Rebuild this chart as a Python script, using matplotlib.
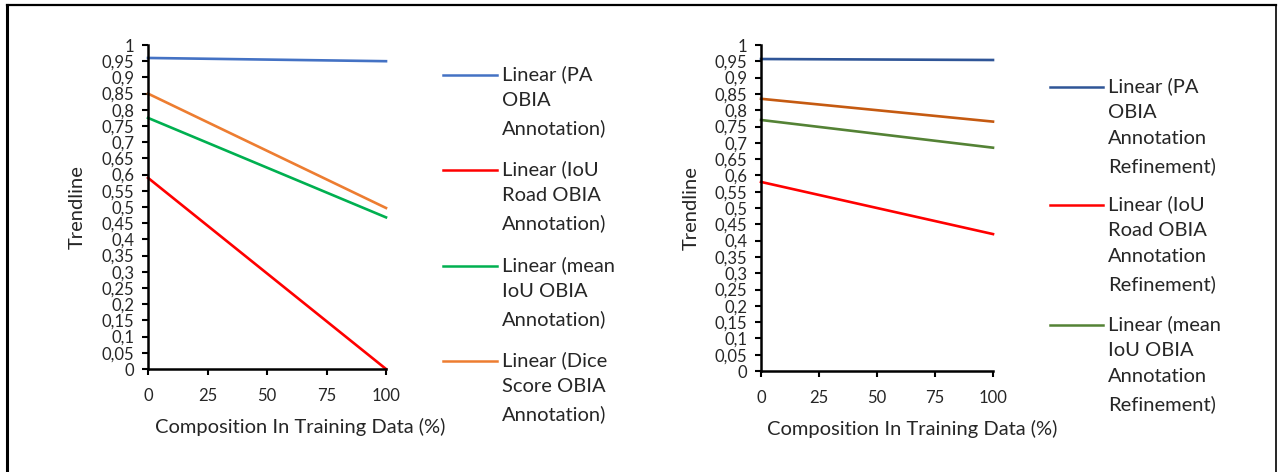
import matplotlib
matplotlib.use("Agg")
import matplotlib.pyplot as plt
from matplotlib.lines import Line2D
import numpy as np

plt.rcParams['font.family'] = ['Lato', 'DejaVu Sans']

# composition in training data (%), trendline endpoints
x = [0, 100]

left_names = ["Linear (PA\nOBIA\nAnnotation)",
              "Linear (IoU\nRoad OBIA\nAnnotation)",
              "Linear (mean\nIoU OBIA\nAnnotation)",
              "Linear (Dice\nScore OBIA\nAnnotation)"]
left_vals = [[0.960, 0.950],
             [0.590, 0.000],
             [0.775, 0.468],
             [0.850, 0.497]]
left_cols = ["#4472C4", "#FF0000", "#00B050", "#ED7D31"]

right_names = ["Linear (PA\nOBIA\nAnnotation\nRefinement)",
               "Linear (IoU\nRoad OBIA\nAnnotation\nRefinement)",
               "Linear (mean\nIoU OBIA\nAnnotation\nRefinement)"]
right_vals = [[0.957, 0.954],
              [0.580, 0.420],
              [0.770, 0.685],
              [0.835, 0.765]]
right_cols = ["#2F5597", "#FF0000", "#548235", "#C55A11"]

yticks = np.round(np.arange(0, 1.0001, 0.05), 2)
ylabels = [("%g" % v).replace(".", ",") for v in yticks]
xticks = [0, 25, 50, 75, 100]

W, H = 1278, 472
fig = plt.figure(figsize=(W / 100, H / 100), dpi=100)


def px(x0, y0):
    return x0 / W, 1 - y0 / H


def setup(ax, xlab_pos):
    ax.set_xlim(0, 100)
    ax.set_ylim(0, 1)
    for s in ["top", "right"]:
        ax.spines[s].set_visible(False)
    for s in ["left", "bottom"]:
        ax.spines[s].set_linewidth(1.8)
        ax.spines[s].set_color("black")
    ax.set_yticks(yticks)
    ax.set_yticklabels(ylabels)
    ax.set_xticks(xticks)
    ax.tick_params(axis="y", direction="out", length=4, width=1.5, pad=6,
                   labelsize=12, labelcolor="#262626")
    ax.tick_params(axis="x", direction="out", length=4, width=1.5, pad=10,
                   labelsize=12, labelcolor="#262626")
    ax.set_xlabel("Composition In Training Data (%)", fontsize=14.5, color="#262626")
    ax.xaxis.set_label_coords(xlab_pos, -0.15)
    ax.set_ylabel("Trendline", fontsize=14.5, color="#262626")


# left chart
ax1 = fig.add_axes([148 / W, 1 - 369 / H, 238 / W, 324 / H])
for v, c in zip(left_vals, left_cols):
    ax1.plot(x, v, color=c, lw=1.9, clip_on=False)
setup(ax1, 0.64)
ax1.yaxis.set_label_coords(-0.26, 0.5)

# right chart
ax2 = fig.add_axes([761 / W, 1 - 371 / H, 232 / W, 326 / H])
for v, c in zip(right_vals, right_cols):
    ax2.plot(x, v, color=c, lw=1.9, clip_on=False)
setup(ax2, 0.65)
ax2.yaxis.set_label_coords(-0.265, 0.5)


# legends drawn by hand so the line sits on the first text row
def legend(names, cols, x0, x1, tx, ys):
    for n, c, y in zip(names, cols, ys):
        a, b = px(x0, y)
        e, _ = px(x1, y)
        fig.add_artist(Line2D([a, e], [b, b], color=c, lw=1.8))
        fig.text(px(tx, 0)[0], b + 10 / H, n, fontsize=14.5, color="#262626",
                 va="top", ha="left", linespacing=1.66)


legend(left_names, left_cols, 443, 497, 502, [75, 170, 266, 361])
legend(right_names, right_cols, 1050, 1103, 1108, [87, 205, 325])

# outer frame
fig.add_artist(Line2D([7 / W, 7 / W], [0, 1 - 5 / H], color="black", lw=2.2))
fig.add_artist(Line2D([7 / W, 1276 / W], [1 - 5 / H, 1 - 5 / H], color="black", lw=1.6))
fig.add_artist(Line2D([1276 / W, 1276 / W], [0, 1 - 5 / H], color="black", lw=1.2))

fig.savefig("out.png", dpi=100)
